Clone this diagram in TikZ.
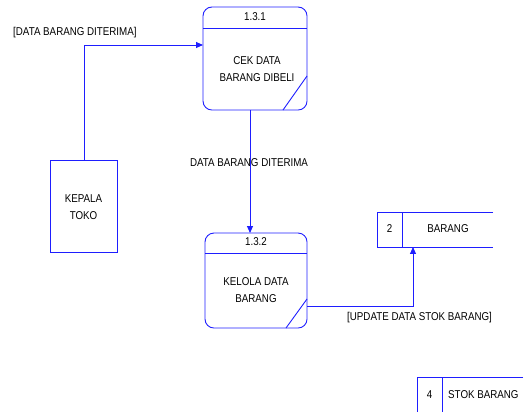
\documentclass[tikz,border=0pt]{standalone}
\usepackage{fontspec}
\setmainfont{Liberation Sans}[FakeStretch=0.86]
\usetikzlibrary{arrows.meta}
\definecolor{dfdblue}{RGB}{30,30,255}
\tikzset{
  flow/.style={draw=dfdblue, line width=0.9pt},
  arrowflow/.style={flow, -{Triangle[length=7pt,width=6pt]}},
  lbl/.style={font=\fontsize{11.4}{17}\selectfont, inner sep=0pt},
  proc/.style={draw=dfdblue, line width=0.9pt, rounded corners=9pt},
}
\begin{document}
\begin{tikzpicture}[x=1bp,y=-1bp]
\useasboundingbox (0,0) rectangle (526,412);

% process 1.3.1
\draw[proc] (203,7) rectangle (307,110);
\draw[flow] (203,28) -- (307,28);
\draw[flow] (307,76) -- (283,110);
\node[lbl] (p1id) at (255,17) {1.3.1};
\node[lbl, align=center] (p1) at (257,69) {CEK DATA\\BARANG DIBELI};
\coordinate (p1left) at (203,45);
\coordinate (p1bot) at (250,110);

% process 1.3.2
\draw[proc] (205,233) rectangle (307,328);
\draw[flow] (205,253) -- (307,253);
\draw[flow] (307,299) -- (286,328);
\node[lbl] (p2id) at (256,242) {1.3.2};
\node[lbl, align=center] (p2) at (256,290) {KELOLA DATA\\BARANG};
\coordinate (p2top) at (250,233);
\coordinate (p2right) at (307,306);

% external entity
\node[draw=dfdblue, line width=0.9pt, minimum width=67bp, minimum height=92bp, inner sep=0pt] (kep) at (83.5,206) {};
\node[lbl, align=center] (keptxt) at (83.5,207) {KEPALA\\TOKO};
\coordinate (keptop) at (84,160);

% data store 2
\draw[flow] (493,212) -- (377,212) -- (377,247) -- (493,247);
\draw[flow] (402,212) -- (402,247);
\node[lbl] (s2id) at (389.5,229) {2};
\node[lbl] (s2) at (448,229) {BARANG};
\coordinate (s2bot) at (413,247);

% data store 4
\draw[flow] (523,377) -- (417,377) -- (417,412);
\draw[flow] (442,377) -- (442,412);
\node[lbl] (s4id) at (429.5,395) {4};
\node[lbl, anchor=west] (s4) at (448,395) {STOK BARANG};

% data flows
\draw[arrowflow] (keptop) -- (84,45) -- (p1left);
\node[lbl, anchor=west] (f1) at (13,33) {[DATA BARANG DITERIMA]};

\draw[arrowflow] (p1bot) -- (p2top);
\node[lbl] (f2) at (249,163) {DATA BARANG DITERIMA};

\draw[arrowflow] (p2right) -- (413,306) -- (s2bot);
\node[lbl, anchor=west] (f3) at (347,318) {[UPDATE DATA STOK BARANG]};
\end{tikzpicture}
\end{document}
